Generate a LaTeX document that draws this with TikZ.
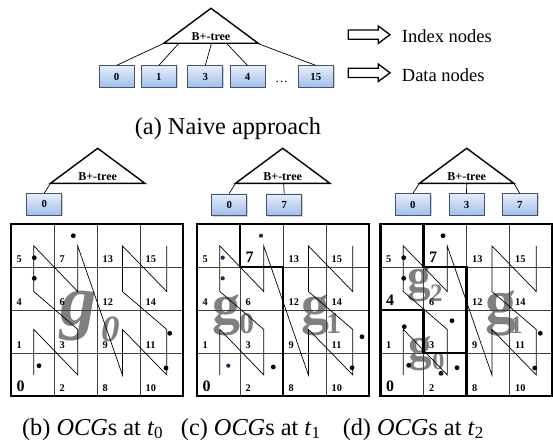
\documentclass[tikz,border=0pt]{standalone}
\usepackage{fontspec}
\setmainfont{Liberation Serif}
\usetikzlibrary{calc,shadows}

\definecolor{boxtop}{RGB}{230,238,251}
\definecolor{boxbot}{RGB}{160,190,236}
\definecolor{boxedge}{RGB}{72,82,104}
\definecolor{ggray}{RGB}{128,128,128}
\definecolor{navydot}{RGB}{28,48,88}

\newcommand\cellsmallfont{\bfseries\fontsize{10.3}{11}\selectfont}
\newcommand\cellbigfont{\bfseries\fontsize{16}{17}\selectfont}

\tikzset{
  treetri/.style={line width=1.4pt, line join=miter},
  treelab/.style={font=\bfseries\fontsize{12}{13}\selectfont, inner sep=0},
  datanode/.style={draw=boxedge, line width=0.7pt, top color=boxtop, bottom color=boxbot,
    minimum width=35pt, minimum height=21.5pt, inner sep=0,
    font=\bfseries\fontsize{10.8}{11}\selectfont,
    drop shadow={shadow xshift=1.2pt, shadow yshift=-1.2pt, opacity=0.35}},
  treeedge/.style={line width=0.7pt},
  gridthin/.style={line width=0.7pt, black!75},
  gridframe/.style={line width=2.4pt},
  partline/.style={line width=2.2pt, line cap=rect},
  zline/.style={line width=0.7pt},
  dotnode/.style={circle, fill=black, inner sep=0, minimum size=4.8pt},
  bluedot/.style={circle, fill=navydot, inner sep=0, minimum size=4.2pt},
  gletter/.style={text=ggray, inner sep=0, anchor=base west},
  caption/.style={inner sep=0, anchor=base, font=\fontsize{24.3}{26}\selectfont},
  legend/.style={inner sep=0, anchor=base west, font=\fontsize{18.5}{20}\selectfont},
  pics/btree/.style={code={
    \draw[treetri] (0,0) coordinate (-apex) -- (47.2,35) coordinate (-br)
      -- (-47.2,35) coordinate (-bl) -- cycle;
    \node[treelab] (-lab) at (0,28) {B+-tree};
  }},
  pics/hollowarrow/.style={code={
    \draw[line width=1.3pt, line join=miter] (0,-4.6) -- (30,-4.6) -- (30,-8.7)
      -- (41.7,0) -- (30,8.7) -- (30,4.6) -- (0,4.6) -- cycle;
  }}
}

% Z-ordered 4x4 grid: #1 name prefix, #2 left, #3 top, #4 cells with large labels
\newcommand\zgrid[4]{%
  \begin{scope}[shift={(#2,#3)}]
    \foreach \k in {1,2,3}{
      \draw[gridthin] (43*\k,0) -- (43*\k,172);
      \draw[gridthin] (0,43*\k) -- (172,43*\k);
    }
    \foreach \i/\c/\r/\px/\py in {0/0/0/22.8/150.9, 1/0/1/22.8/105.4, 2/1/0/66.7/150.9,
        3/1/1/66.7/105.4, 4/0/2/22.8/67.5, 5/0/3/22.8/21.9, 6/1/2/66.7/67.5,
        7/1/3/66.7/21.9, 8/2/0/111.4/150.9, 9/2/1/111.4/105.4, 10/3/0/155.7/150.9,
        11/3/1/155.7/105.4, 12/2/2/111.4/67.5, 13/2/3/111.4/21.9, 14/3/2/155.7/67.5,
        15/3/3/155.7/21.9}{
      \gdef\labfont{\cellsmallfont}
      \foreach \b in {#4}{\ifnum\b=\i\relax\gdef\labfont{\cellbigfont}\fi}
      \node[font=\labfont, anchor=base west, inner sep=0] (#1l\i) at (43*\c+5.5,167.5-43*\r) {\i};
      \coordinate (#1z\i) at (\px,\py);
    }
    \draw[zline] (#1z0) \foreach \i in {1,...,15}{ -- (#1z\i)};
    \draw[gridframe] (0,0) rectangle (172,172);
  \end{scope}}

\begin{document}
\begin{tikzpicture}[x=1pt, y=-1pt]
\useasboundingbox (0,0) rectangle (553,444);

% ---------- (a) naive approach ----------
\pic (ta) at (211,8.3) {btree};
\node[datanode] (a0) at (116.5,76.5) {0};
\node[datanode] (a1) at (158.8,76.5) {1};
\node[datanode] (a3) at (205.3,76.5) {3};
\node[datanode] (a4) at (247.5,76.5) {4};
\node[font=\fontsize{13}{14}\selectfont, inner sep=0, anchor=base] (adots) at (281.7,82) {\ldots};
\node[datanode] (a15) at (315.8,76.5) {15};
\coordinate (ta-p1) at ($(ta-bl)!0.16!(ta-br)$);
\coordinate (ta-p3) at ($(ta-bl)!0.505!(ta-br)$);
\coordinate (ta-p4) at ($(ta-bl)!0.665!(ta-br)$);
\coordinate (ta-p15) at ($(ta-bl)!0.99!(ta-br)$);
\draw[treeedge] (ta-bl) -- (a0.north);
\draw[treeedge] (ta-p1) -- (a1.north);
\draw[treeedge] (ta-p3) -- (a3.north);
\draw[treeedge] (ta-p4) -- (a4.north);
\draw[treeedge] (ta-p15) -- (a15.north);

\pic (arrI) at (348.3,34.7) {hollowarrow};
\pic (arrD) at (348.3,72.8) {hollowarrow};
\node[legend] (idx) at (401.7,42.7) {Index nodes};
\node[legend] (dat) at (401.7,81) {Data nodes};
\node[caption] (capa) at (228,134) {(a) Naive approach};

% ---------- trees of (b), (c), (d) ----------
\pic (tb) at (97.7,148.3) {btree};
\node[datanode] (b0) at (44.2,204.3) {0};
\draw[treeedge] (tb-bl) -- (b0.north);

\pic (tc) at (282.7,148.3) {btree};
\node[datanode] (c0) at (229.2,204.6) {0};
\node[datanode] (c7) at (284.2,204.6) {7};
\coordinate (tc-mid) at ($(tc-bl)!0.51!(tc-br)$);
\draw[treeedge] (tc-bl) -- (c0.north);
\draw[treeedge] (tc-mid) -- (c7.north);

\pic (td) at (466.7,148.3) {btree};
\node[datanode] (d0) at (412.8,204.5) {0};
\node[datanode] (d3) at (466.5,204.5) {3};
\node[datanode] (d7) at (519.8,204.5) {7};
\coordinate (td-mid) at ($(td-bl)!0.5!(td-br)$);
\draw[treeedge] (td-bl) -- (d0.north);
\draw[treeedge] (td-mid) -- (d3.north);
\draw[treeedge] (td-br) -- (d7.north);

% ---------- large group names, behind the grids ----------
\node[gletter, font=\bfseries\itshape\fontsize{73}{73}\selectfont] (gb0) at (60,325) {g};
\node[gletter, font=\bfseries\itshape\fontsize{37}{37}\selectfont] (gb0s) at (101,341.7) {0};

\node[gletter, font=\bfseries\fontsize{56}{56}\selectfont] (gc0) at (212,323) {g};
\node[gletter, font=\bfseries\fontsize{30}{30}\selectfont] (gc0s) at (239,333.3) {0};
\node[gletter, font=\bfseries\fontsize{56}{56}\selectfont] (gc1) at (301,323) {g};
\node[gletter, font=\bfseries\fontsize{30}{30}\selectfont] (gc1s) at (326,333.3) {1};

\node[gletter, font=\bfseries\fontsize{47}{47}\selectfont] (gd2) at (407,291.8) {g};
\node[gletter, font=\bfseries\fontsize{25}{25}\selectfont] (gd2s) at (430,301.7) {2};
\node[gletter, font=\bfseries\fontsize{62}{62}\selectfont] (gd1) at (485,322) {g};
\node[gletter, font=\bfseries\fontsize{25}{25}\selectfont] (gd1s) at (510,333) {1};
\node[gletter, font=\bfseries\fontsize{47}{47}\selectfont] (gd0) at (408,360) {g};
\node[gletter, font=\bfseries\fontsize{25}{25}\selectfont] (gd0s) at (432,369) {0};

% ---------- grids ----------
\zgrid{gb}{11}{224}{0}
\zgrid{gc}{197}{224}{0,7}
\zgrid{gd}{380.5}{224}{0,4,7}

% group borders
\begin{scope}[shift={(197,224)}]
  \draw[partline] (43,0) -- (43,43) -- (86,43) -- (86,172);
\end{scope}
\begin{scope}[shift={(380.5,224)}]
  \draw[partline] (43,0) -- (43,43) -- (86,43) -- (86,172);
  \draw[partline] (0,86) -- (43,86) -- (43,129) -- (86,129);
\end{scope}

% ---------- data points ----------
\foreach \n/\x/\y in {1/73.3/235.7, 2/34.3/257.7, 3/34.3/278.3, 4/39/365.7,
    5/169.7/333.3, 6/166/368}
  \node[dotnode] (pb\n) at (\x,\y) {};
\foreach \n/\x/\y in {1/261/235.7, 2/222.7/257.7, 3/222.7/278.3, 4/228.3/365.7}
  \node[bluedot] (pc\n) at (\x,\y) {};
\foreach \n/\x/\y in {5/273.3/367, 6/362/336.7, 7/352/367.7}
  \node[dotnode] (pc\n) at (\x,\y) {};
\foreach \n/\x/\y in {1/443/235.7, 2/403.7/257.7, 3/403.7/278.3, 4/404.3/326.7,
    5/452/320.7, 6/408.7/365.3, 7/441/373.3, 8/457/367.7, 9/540.3/333.3, 10/534.7/368}
  \node[dotnode] (pd\n) at (\x,\y) {};

% ---------- captions ----------
\node[caption] (capb) at (92.7,435) {(b) \textit{OCG}s at \textit{t}\textsubscript{0}};
\node[caption] (capc) at (250.8,435) {(c) \textit{OCG}s at \textit{t}\textsubscript{1}};
\node[caption] (capd) at (413.3,435) {(d) \textit{OCG}s at \textit{t}\textsubscript{2}};
\end{tikzpicture}
\end{document}
